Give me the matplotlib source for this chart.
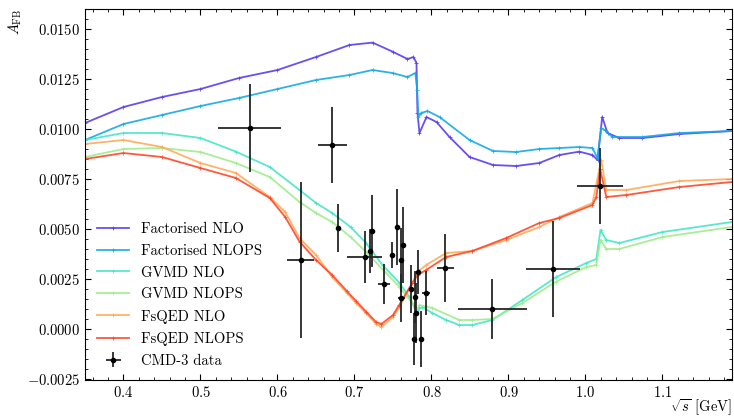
import numpy as np
import matplotlib
matplotlib.use("Agg")
from matplotlib import pyplot as plt
from matplotlib.ticker import MultipleLocator, FuncFormatter

plt.rcParams['font.family'] = ['cmr10', 'DejaVu Serif']
plt.rcParams['mathtext.fontset'] = 'cm'
plt.rcParams['axes.formatter.use_mathtext'] = True
plt.rcParams['font.size'] = 10.5

# --- theory curves ---
fact_nlo_x = [0.35, 0.40, 0.45, 0.50, 0.55, 0.60, 0.65, 0.6935, 0.7234, 0.7494, 0.7688, 0.7766,
              0.7805, 0.7818, 0.7844, 0.7935, 0.8065, 0.8234, 0.8494, 0.88, 0.91, 0.94, 0.966,
              0.992, 1.009, 1.0156, 1.0217, 1.0286, 1.044, 1.074, 1.122, 1.19]
fact_nlo_y = [0.0103, 0.0111, 0.0116, 0.0120, 0.01255, 0.01295, 0.0136, 0.0142, 0.01432, 0.01387, 0.0135, 0.0136,
              0.0133, 0.0108, 0.0098, 0.0106, 0.01035, 0.0096, 0.0086, 0.0082, 0.00815, 0.0083, 0.0087,
              0.00887, 0.0087, 0.00845, 0.0106, 0.0098, 0.00955, 0.00955, 0.00975, 0.0099]

fact_nlops_x = [0.35, 0.40, 0.45, 0.50, 0.55, 0.60, 0.65, 0.6935, 0.7234, 0.7494, 0.7688, 0.779,
                0.7814, 0.783, 0.7866, 0.7948, 0.8104, 0.8494, 0.88, 0.91, 0.94, 0.966,
                0.992, 1.009, 1.0156, 1.0204, 1.0247, 1.035, 1.074, 1.122, 1.19]
fact_nlops_y = [0.00945, 0.01025, 0.0107, 0.01115, 0.01155, 0.0120, 0.01245, 0.0127, 0.01295, 0.0128, 0.0126, 0.0128,
                0.01195, 0.0106, 0.0108, 0.0109, 0.0106, 0.00945, 0.0089, 0.00885, 0.0090, 0.00905,
                0.0091, 0.00905, 0.00855, 0.01005, 0.00995, 0.0096, 0.0096, 0.0098, 0.0099]

gvmd_nlo_x = [0.35, 0.40, 0.45, 0.50, 0.546, 0.59, 0.6286, 0.65, 0.671, 0.695, 0.715, 0.7364, 0.7584, 0.7714, 0.778,
              0.7805, 0.7844, 0.7883, 0.801, 0.819, 0.836, 0.853, 0.879, 0.918, 0.962, 1.001, 1.014,
              1.0195, 1.027, 1.044, 1.10, 1.19]
gvmd_nlo_y = [0.00945, 0.0098, 0.0098, 0.00955, 0.00887, 0.0081, 0.00695, 0.0063, 0.0058, 0.0051, 0.0043, 0.0032, 0.0023, 0.0016, 0.0011,
              0.0007, 0.00105, 0.0011, 0.0008, 0.00045, 0.0002, 0.0002, 0.00045, 0.00145, 0.0026, 0.0033, 0.0035,
              0.00495, 0.00445, 0.0043, 0.00485, 0.00535]

gvmd_nlops_x = [0.35, 0.40, 0.45, 0.50, 0.546, 0.59, 0.6286, 0.65, 0.671, 0.695, 0.715, 0.7584, 0.775, 0.780,
                0.7844, 0.801, 0.836, 0.853, 0.879, 0.918, 0.962, 1.001, 1.014,
                1.0195, 1.027, 1.044, 1.10, 1.19]
gvmd_nlops_y = [0.0086, 0.0090, 0.00905, 0.00885, 0.0083, 0.0076, 0.00635, 0.0058, 0.00535, 0.0046, 0.00385, 0.0021, 0.0013, 0.00087,
                0.0012, 0.00105, 0.00045, 0.00045, 0.0005, 0.0013, 0.00237, 0.0031, 0.0032,
                0.00445, 0.0040, 0.0040, 0.0046, 0.0051]

fsqed_nlo_x = [0.35, 0.40, 0.45, 0.50, 0.546, 0.59, 0.61, 0.6286, 0.65, 0.671, 0.69, 0.702, 0.715, 0.728, 0.735, 0.75,
               0.7584, 0.775, 0.782, 0.793, 0.819, 0.853, 0.897, 0.94, 0.966, 1.009, 1.0204, 1.027, 1.053, 1.122, 1.19]
fsqed_nlo_y = [0.00925, 0.00945, 0.0091, 0.0083, 0.0078, 0.0066, 0.00585, 0.00455, 0.0037, 0.0026, 0.0018, 0.0013, 0.0008, 0.00025, 0.0001, 0.0006,
               0.0011, 0.0023, 0.00285, 0.0032, 0.0038, 0.0039, 0.00445, 0.0051, 0.0056, 0.0063, 0.00845, 0.00695, 0.00695, 0.0074, 0.0075]

fsqed_nlops_x = [0.35, 0.40, 0.45, 0.50, 0.546, 0.59, 0.61, 0.6286, 0.65, 0.671, 0.69, 0.702, 0.715, 0.728, 0.735, 0.75,
                 0.758, 0.775, 0.782, 0.793, 0.819, 0.853, 0.897, 0.94, 0.966, 1.009, 1.014, 1.019, 1.027, 1.053, 1.122, 1.19]
fsqed_nlops_y = [0.0085, 0.0088, 0.0086, 0.00805, 0.00755, 0.00655, 0.0056, 0.00437, 0.00345, 0.0027, 0.0019, 0.0014, 0.00087, 0.00035, 0.00025, 0.0007,
                 0.0012, 0.0023, 0.0027, 0.00295, 0.0036, 0.0039, 0.00455, 0.0053, 0.00555, 0.0062, 0.0066, 0.0080, 0.0066, 0.0067, 0.0071, 0.00735]

# --- CMD-3 data ---
cmd_x = [0.564, 0.671, 0.630, 0.679, 0.713, 0.720, 0.723, 0.738, 0.749, 0.755, 0.760, 0.763,
         0.761, 0.774, 0.777, 0.779, 0.780, 0.783, 0.787, 0.793, 0.818, 0.879, 0.958, 1.019]
cmd_y = [0.01005, 0.0092, 0.00345, 0.00505, 0.0036, 0.0039, 0.0049, 0.00225, 0.0037, 0.0051, 0.00345, 0.0042,
         0.00153, 0.0020, -0.0005, 0.0016, 0.0008, 0.00285, -0.0005, 0.0018, 0.00305, 0.0010, 0.0030, 0.00717]
cmd_xerr = [0.041, 0.019, 0.0175, 0.0, 0.0227, 0.0, 0.0, 0.0078, 0.0, 0.0, 0.0, 0.0,
            0.005, 0.0, 0.0, 0.0, 0.0, 0.0, 0.0, 0.005, 0.011, 0.045, 0.035, 0.030]
cmd_yerr = [0.0022, 0.0019, 0.0039, 0.0012, 0.0013, 0.0011, 0.0018, 0.0010, 0.00065, 0.0019, 0.0016, 0.0019,
            0.0012, 0.0012, 0.0013, 0.0013, 0.0015, 0.0011, 0.0014, 0.0011, 0.0017, 0.0015, 0.0024, 0.0019]

curves = [
    (fact_nlo_x, fact_nlo_y, 'Factorised NLO'),
    (fact_nlops_x, fact_nlops_y, 'Factorised NLOPS'),
    (gvmd_nlo_x, gvmd_nlo_y, 'GVMD NLO'),
    (gvmd_nlops_x, gvmd_nlops_y, 'GVMD NLOPS'),
    (fsqed_nlo_x, fsqed_nlo_y, 'FsQED NLO'),
    (fsqed_nlops_x, fsqed_nlops_y, 'FsQED NLOPS'),
]
colors = ['#5a3cf0', '#14aae6', '#46e6c6', '#a0ec8c', '#ffaa5a', '#ff4628']

fig = plt.figure(figsize=(7.34, 4.17), dpi=100)
ax = fig.add_axes([0.1158, 0.0887, 0.8812, 0.8897])

for (xs, ys, lab), c in zip(curves, colors):
    ax.plot(xs, ys, color=c, lw=1.3, alpha=0.9, marker='+', ms=2.5, mew=0.6, label=lab)

ax.errorbar(cmd_x, cmd_y, xerr=cmd_xerr, yerr=cmd_yerr, fmt='o', ms=3, color='k',
            ecolor='0.15', elinewidth=1.3, capsize=0, label='CMD-3 data')

ax.set_xlim(0.35, 1.19)
ax.set_ylim(-0.00255, 0.016)

ax.xaxis.set_major_locator(MultipleLocator(0.1))
ax.xaxis.set_minor_locator(MultipleLocator(0.02))
ax.yaxis.set_major_locator(MultipleLocator(0.0025))
ax.yaxis.set_minor_locator(MultipleLocator(0.0005))
ax.xaxis.set_major_formatter(FuncFormatter(lambda v, p: f'${v:.1f}$'))
ax.yaxis.set_major_formatter(FuncFormatter(lambda v, p: f'${v:.4f}$'))
ax.tick_params(which='both', direction='in', top=True, right=True)
ax.tick_params(which='major', length=4)
ax.tick_params(which='minor', length=2)

ax.set_xlabel(r'$\sqrt{s}$ [GeV]', loc='right', labelpad=-2)
ax.set_ylabel(r'$A_{\rm FB}$', loc='top', labelpad=2)

ax.legend(loc='lower left', frameon=False, numpoints=1, handlelength=2.2,
          labelspacing=0.56, bbox_to_anchor=(0.0, 0.0), borderaxespad=0.45)

fig.savefig('out.png', dpi=100)
